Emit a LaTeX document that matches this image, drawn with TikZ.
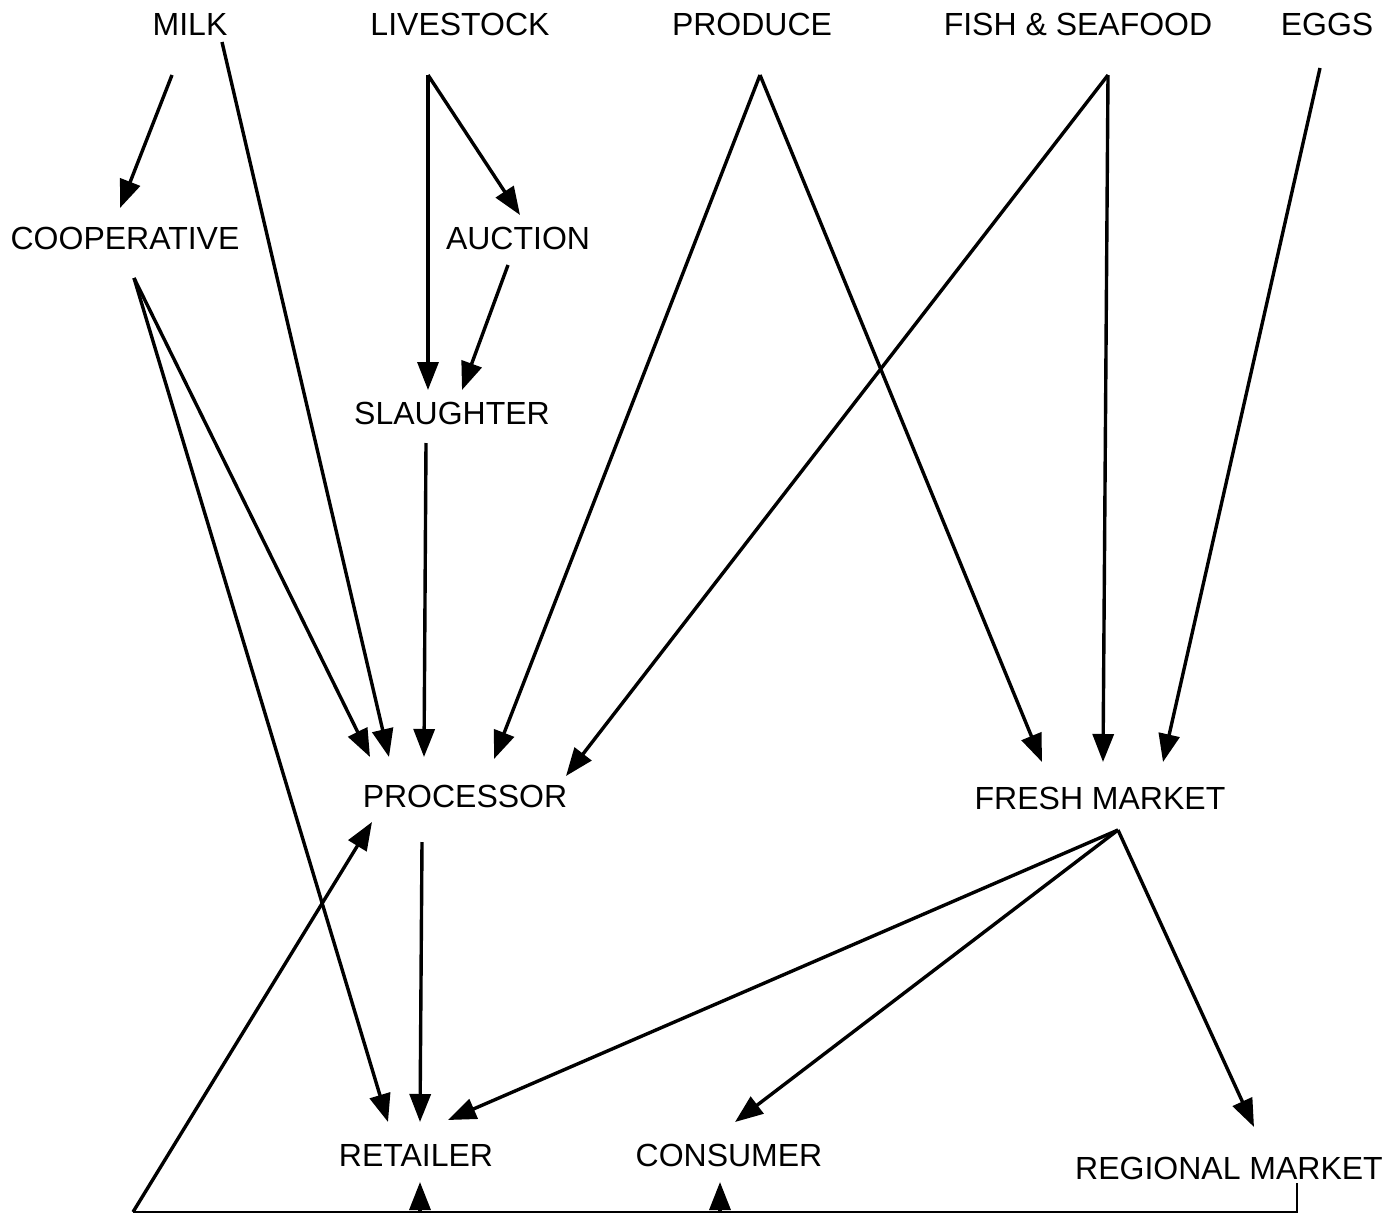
\documentclass[tikz,border=0pt]{standalone}
\usepackage{fontspec}
\setmainfont{Liberation Sans}
\usetikzlibrary{arrows.meta}
\begin{document}
\begin{tikzpicture}[x=1pt,y=-1pt,
  lbl/.style={font=\fontsize{32}{32}\selectfont, inner sep=0pt, anchor=center},
  flow/.style={line width=3.4pt, -{Triangle[length=28pt,width=21pt]}},
  base/.style={line width=2.6pt}]
\useasboundingbox (0,0) rectangle (1400,1215);
% nodes
\node[lbl] (milk) at (190,24) {MILK};
\node[lbl] (livestock) at (460,24) {LIVESTOCK};
\node[lbl] (produce) at (752,24) {PRODUCE};
\node[lbl] (fish) at (1078,24) {FISH \& SEAFOOD};
\node[lbl] (eggs) at (1327,24) {EGGS};
\node[lbl] (coop) at (125,238) {COOPERATIVE};
\node[lbl] (auction) at (518,238) {AUCTION};
\node[lbl] (slaughter) at (452,413) {SLAUGHTER};
\node[lbl] (processor) at (465,796) {PROCESSOR};
\node[lbl] (fresh) at (1100,798) {FRESH MARKET};
\node[lbl] (retailer) at (416,1155) {RETAILER};
\node[lbl] (consumer) at (729,1155) {CONSUMER};
\node[lbl] (regional) at (1229,1168) {REGIONAL MARKET};
% connector end points
\coordinate (milkA) at (172,75);
\coordinate (milkB) at (222,42);
\coordinate (lvsOut) at (428,75);
\coordinate (coopIn) at (120,208);
\coordinate (coopOut) at (134,278);
\coordinate (aucIn) at (520,215);
\coordinate (aucOut) at (508,265);
\coordinate (slaInA) at (428,390);
\coordinate (slaInB) at (462,390);
\coordinate (slaOut) at (426,443);
\coordinate (prodOut) at (760,75);
\coordinate (fishOut) at (1108,75);
\coordinate (eggsOut) at (1320,68);
\coordinate (procIn1) at (370,757);
\coordinate (procIn2) at (389,757);
\coordinate (procIn3) at (424,757);
\coordinate (procIn4) at (494,759);
\coordinate (procIn5) at (566,776);
\coordinate (procOut) at (422,842);
\coordinate (procBot) at (372,822);
\coordinate (frIn1) at (1042,762);
\coordinate (frIn2) at (1103,762);
\coordinate (frIn3) at (1163,762);
\coordinate (frOut) at (1118,830);
\coordinate (retIn1) at (388,1122);
\coordinate (retIn2) at (420,1122);
\coordinate (retIn3) at (448,1120);
\coordinate (conIn) at (735,1122);
\coordinate (regIn) at (1254,1127);
\coordinate (regOut) at (1297,1183);
\coordinate (cornerR) at (1297,1212);
\coordinate (cornerL) at (133,1212);
\coordinate (retBot) at (420,1182);
\coordinate (conBot) at (720,1182);
\coordinate (retBase) at (420,1212);
\coordinate (conBase) at (720,1212);
% connectors
\draw[flow] (milkA) -- (coopIn);
\draw[flow] (milkB) -- (procIn2);
\draw[flow] (lvsOut) -- (slaInA);
\draw[flow] (lvsOut) -- (aucIn);
\draw[flow] (aucOut) -- (slaInB);
\draw[flow] (coopOut) -- (procIn1);
\draw[flow] (coopOut) -- (retIn1);
\draw[flow] (slaOut) -- (procIn3);
\draw[flow] (prodOut) -- (procIn4);
\draw[flow] (prodOut) -- (frIn1);
\draw[flow] (fishOut) -- (procIn5);
\draw[flow] (fishOut) -- (frIn2);
\draw[flow] (eggsOut) -- (frIn3);
\draw[flow] (procOut) -- (retIn2);
\draw[flow] (frOut) -- (retIn3);
\draw[flow] (frOut) -- (conIn);
\draw[flow] (frOut) -- (regIn);
\draw[base] (regOut) -- (cornerR) -- (cornerL);
\draw[flow] (cornerL) -- (procBot);
\draw[flow] (retBase) -- (retBot);
\draw[flow] (conBase) -- (conBot);
\end{tikzpicture}
\end{document}
